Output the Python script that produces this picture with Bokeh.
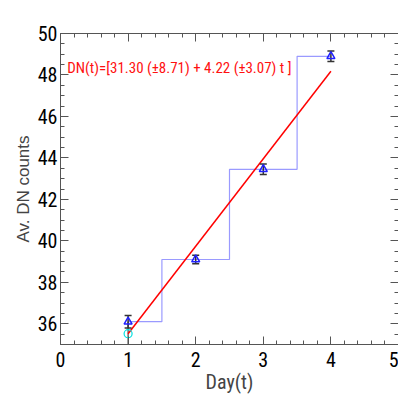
from bokeh.plotting import figure
from bokeh.models import LinearAxis, SingleIntervalTicker, Label, Range1d, CustomJSTickFormatter
from bokeh.embed import file_html
from bokeh.resources import INLINE

# data
days = [1, 2, 3, 4]
counts = [36.1, 39.1, 43.45, 48.9]
errs = [0.3, 0.2, 0.25, 0.25]
fit_intercept = 31.30
fit_slope = 4.22
fit_label = "DN(t)=[31.30 (\u00b18.71) + 4.22 (\u00b13.07) t ]"

NARROW = "Roboto Condensed"

p = figure(width=398, height=398, output_backend="svg", toolbar_location=None,
           x_range=Range1d(0, 5), y_range=Range1d(35, 50),
           min_border_left=60, min_border_right=0, min_border_top=33, min_border_bottom=54,
           x_axis_location=None, y_axis_location=None)
p.grid.visible = False
p.outline_line_color = None
p.background_fill_color = "white"
p.border_fill_color = "white"

def style(ax, labels=True):
    ax.axis_line_color = "#555555"
    ax.major_tick_line_color = "#555555"
    ax.minor_tick_line_color = "#555555"
    ax.major_tick_in = 8
    ax.major_tick_out = 0
    ax.minor_tick_in = 4
    ax.minor_tick_out = 0
    if labels:
        ax.major_label_text_font = NARROW
        ax.major_label_text_font_size = "20px"
        ax.major_label_text_color = "black"
    else:
        ax.formatter = CustomJSTickFormatter(code="return ''")
        ax.major_label_standoff = 0

xb = LinearAxis(ticker=SingleIntervalTicker(interval=1, num_minor_ticks=5),
                axis_label="Day(t)")
style(xb)
xb.major_label_standoff = 7
xb.axis_label_text_font = NARROW
xb.axis_label_text_font_style = "normal"
xb.axis_label_text_font_size = "20px"
xb.axis_label_standoff = 0
p.add_layout(xb, "below")

yl = LinearAxis(ticker=SingleIntervalTicker(interval=2, num_minor_ticks=4),
                axis_label="Av. DN counts")
style(yl)
yl.major_label_standoff = 3
yl.axis_label_text_font = "Liberation Sans"
yl.axis_label_text_font_style = "normal"
yl.axis_label_text_font_size = "17px"
yl.axis_label_standoff = 2
p.add_layout(yl, "left")

xt = LinearAxis(ticker=SingleIntervalTicker(interval=1, num_minor_ticks=5))
style(xt, labels=False)
p.add_layout(xt, "above")
yr = LinearAxis(ticker=SingleIntervalTicker(interval=2, num_minor_ticks=4))
style(yr, labels=False)
p.add_layout(yr, "right")

# step (histogram) line
sx, sy = [days[0]], [counts[0]]
for i in range(len(days) - 1):
    mid = (days[i] + days[i + 1]) / 2
    sx += [mid, mid]
    sy += [counts[i], counts[i + 1]]
sx.append(days[-1])
sy.append(counts[-1])
p.line(sx, sy, line_color="#9a9aff", line_width=1.2)

# vertical drop at the first day
p.segment(x0=[days[0]], y0=[p.y_range.start], x1=[days[0]], y1=[counts[0]],
          line_color="#444444", line_width=1.2)

# fit line
fx = [days[0], days[-1]]
fy = [fit_intercept + fit_slope * d for d in fx]
p.line(fx, fy, line_color="#ff0000", line_width=1.5)
p.scatter([fx[0]], [fy[0]], marker="circle", size=8, fill_color=None,
          line_color="#00e0e0", line_width=1.2)

# error bars
lo = [c - e for c, e in zip(counts, errs)]
hi = [c + e for c, e in zip(counts, errs)]
p.segment(x0=days, y0=lo, x1=days, y1=hi, line_color="#333333", line_width=1.5)
p.dash(days, hi, size=7, line_color="#333333", line_width=1.5)
p.dash(days, lo, size=7, line_color="#333333", line_width=1.5)

# data points
p.scatter(days, counts, marker="triangle", size=8, fill_color=None,
          line_color="#2020ff", line_width=1.5)

lab = Label(x=0.1, y=48.33, text=fit_label, text_color="#ff1010",
            text_font=NARROW, text_font_size="15px", text_baseline="middle")
p.add_layout(lab)

open("out.html", "w").write(file_html(p, INLINE))
